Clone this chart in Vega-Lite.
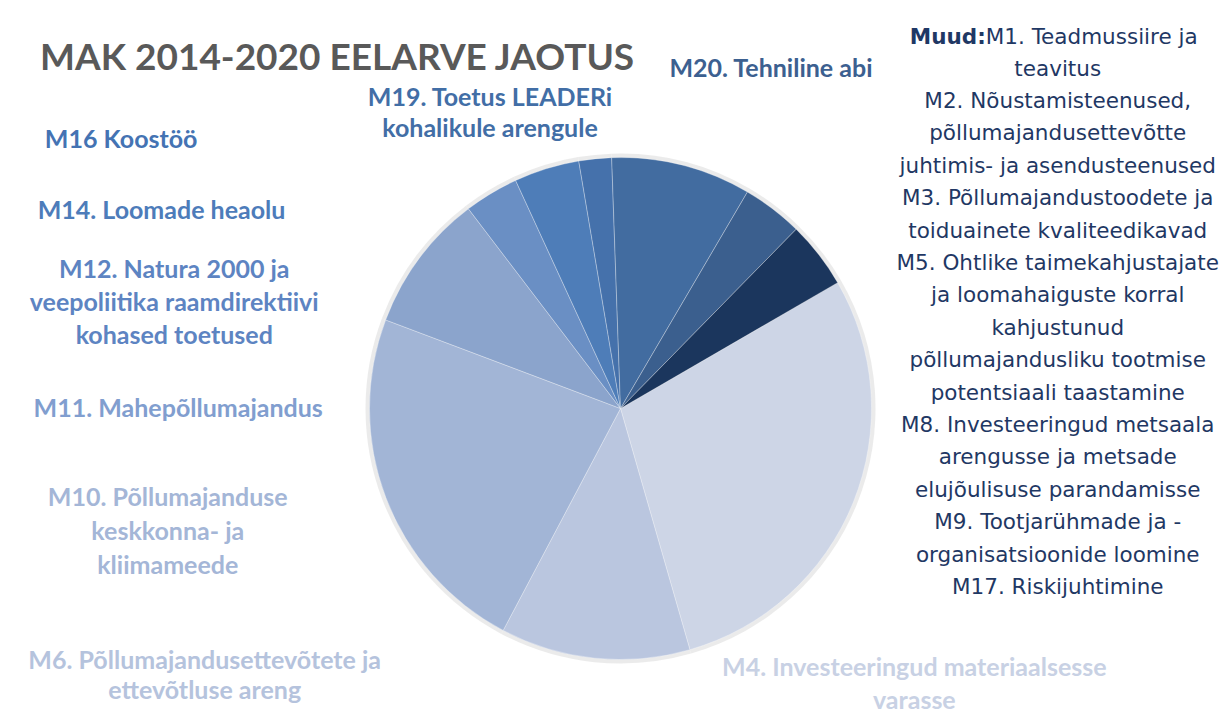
{
  "$schema": "https://vega.github.io/schema/vega-lite/v6.json",
  "autosize": {"type": "none"},
  "width": 1221,
  "height": 627,
  "padding": {"left": 10, "top": 95, "right": 0, "bottom": 0},
  "background": "#ffffff",
  "config": {"view": {"stroke": null}},
  "title": {"text": "MAK 2014-2020 EELARVE JAOTUS", "anchor": "start", "frame": "group", "orient": "top", "offset": -176, "dx": 30, "baseline": "alphabetic", "font": "Lato", "fontSize": 37, "fontWeight": "bold", "color": "#595959"},
  "data": {"values": [
    {"n": 1, "name": "M4", "value": 28.9, "label": "M4. Investeeringud materiaalsesse\nvarasse"},
    {"n": 2, "name": "M6", "value": 12.2, "label": "M6. Põllumajandusettevõtete ja\nettevõtluse areng"},
    {"n": 3, "name": "M10", "value": 23.0, "label": "M10. Põllumajanduse\nkeskkonna- ja\nkliimameede"},
    {"n": 4, "name": "M11", "value": 8.9, "label": "M11. Mahepõllumajandus"},
    {"n": 5, "name": "M12", "value": 3.5, "label": "M12. Natura 2000 ja\nveepoliitika raamdirektiivi\nkohased toetused"},
    {"n": 6, "name": "M14", "value": 4.2, "label": "M14. Loomade heaolu"},
    {"n": 7, "name": "M16", "value": 2.1, "label": "M16 Koostöö"},
    {"n": 8, "name": "M19", "value": 9.0, "label": "M19. Toetus LEADERi\nkohalikule arengule"},
    {"n": 9, "name": "M20", "value": 3.9, "label": "M20. Tehniline abi"},
    {"n": 10, "name": "Muud", "value": 4.3, "label": "M1. Teadmussiire ja"}
  ]},
  "encoding": {
    "theta": {"field": "value", "type": "quantitative", "stack": true, "scale": {"range": [1.0455, 7.3287]}},
    "order": {"field": "n", "type": "quantitative"},
    "detail": {"field": "name", "type": "nominal"}
  },
  "layer": [
    {
      "mark": {"type": "arc", "radius": 255, "color": "#e3e3e3", "opacity": 0.7},
      "encoding": {}
    },
    {
      "mark": {"type": "arc", "radius": 251, "stroke": "#ffffff", "strokeWidth": 0.6, "strokeOpacity": 0.5},
      "encoding": {
        "color": {"field": "name", "type": "nominal", "legend": null,
          "scale": {"domain": ["M4", "M6", "M10", "M11", "M12", "M14", "M16", "M19", "M20", "Muud"],
                    "range": ["#cdd5e6", "#bac6df", "#a2b5d6", "#8ba4cc", "#6a8fc4", "#4e7db8", "#4571ab", "#426ca0", "#3b5f8e", "#1b365d"]}}
      }
    },
    {
      "mark": {"type": "text", "radius": 251, "dx": 61, "dy": 166, "align": "center", "baseline": "middle", "lineBreak": "\n", "lineHeight": 33, "font": "Lato", "fontSize": 25, "fontWeight": "bold", "color": "#c8d1e4"},
      "encoding": {"text": {"condition": {"test": "datum.name === 'M4'", "field": "label"}, "value": ""}}
    },
    {
      "mark": {"type": "text", "radius": 251, "dx": -390, "dy": 3, "align": "center", "baseline": "middle", "lineBreak": "\n", "lineHeight": 30, "font": "Lato", "fontSize": 25, "fontWeight": "bold", "color": "#b5c3dd"},
      "encoding": {"text": {"condition": {"test": "datum.name === 'M6'", "field": "label"}, "value": ""}}
    },
    {
      "mark": {"type": "text", "radius": 251, "dx": -218, "dy": 1, "align": "center", "baseline": "middle", "lineBreak": "\n", "lineHeight": 34, "font": "Lato", "fontSize": 25, "fontWeight": "bold", "color": "#a4b6d7"},
      "encoding": {"text": {"condition": {"test": "datum.name === 'M10'", "field": "label"}, "value": ""}}
    },
    {
      "mark": {"type": "text", "radius": 251, "dx": -241, "dy": 150, "align": "center", "baseline": "middle", "lineBreak": "\n", "lineHeight": 33, "font": "Lato", "fontSize": 25, "fontWeight": "bold", "color": "#819ecf"},
      "encoding": {"text": {"condition": {"test": "datum.name === 'M11'", "field": "label"}, "value": ""}}
    },
    {
      "mark": {"type": "text", "radius": 251, "dx": -317, "dy": 77, "align": "center", "baseline": "middle", "lineBreak": "\n", "lineHeight": 33, "font": "Lato", "fontSize": 25, "fontWeight": "bold", "color": "#5d84c2"},
      "encoding": {"text": {"condition": {"test": "datum.name === 'M12'", "field": "label"}, "value": ""}}
    },
    {
      "mark": {"type": "text", "radius": 251, "dx": -385, "dy": 42, "align": "center", "baseline": "middle", "lineBreak": "\n", "lineHeight": 33, "font": "Lato", "fontSize": 25, "fontWeight": "bold", "color": "#4d7cba"},
      "encoding": {"text": {"condition": {"test": "datum.name === 'M14'", "field": "label"}, "value": ""}}
    },
    {
      "mark": {"type": "text", "radius": 251, "dx": -474, "dy": -19, "align": "center", "baseline": "middle", "lineBreak": "\n", "lineHeight": 33, "font": "Lato", "fontSize": 25, "fontWeight": "bold", "color": "#4473b3"},
      "encoding": {"text": {"condition": {"test": "datum.name === 'M16'", "field": "label"}, "value": ""}}
    },
    {
      "mark": {"type": "text", "radius": 251, "dx": -192, "dy": -67, "align": "center", "baseline": "middle", "lineBreak": "\n", "lineHeight": 31, "font": "Lato", "fontSize": 25, "fontWeight": "bold", "color": "#426ea6"},
      "encoding": {"text": {"condition": {"test": "datum.name === 'M19'", "field": "label"}, "value": ""}}
    },
    {
      "mark": {"type": "text", "radius": 251, "dx": -2, "dy": -140, "align": "center", "baseline": "middle", "lineBreak": "\n", "lineHeight": 33, "font": "Lato", "fontSize": 25, "fontWeight": "bold", "color": "#3c6090"},
      "encoding": {"text": {"condition": {"test": "datum.name === 'M20'", "field": "label"}, "value": ""}}
    },
    {
      "mark": {"type": "text", "radius": 251, "dx": 167, "dy": -217, "align": "right", "baseline": "middle", "font": "DejaVu Sans", "fontSize": 21.5, "fontWeight": "bold", "color": "#1f3864"},
      "encoding": {"text": {"condition": {"test": "datum.name === 'Muud'", "value": "Muud:"}, "value": ""}}
    },
    {
      "mark": {"type": "text", "radius": 251, "dx": 167, "dy": -217, "align": "left", "baseline": "middle", "font": "DejaVu Sans", "fontSize": 21.5, "color": "#1f3864"},
      "encoding": {"text": {"condition": {"test": "datum.name === 'Muud'", "field": "label"}, "value": ""}}
    },
    {
      "mark": {"type": "text", "radius": 251, "dx": 239, "dy": -185, "align": "center", "baseline": "middle", "lineHeight": 32.4, "font": "DejaVu Sans", "fontSize": 21.5, "color": "#1f3864"},
      "encoding": {"text": {"condition": {"test": "datum.name === 'Muud'", "value": ["teavitus", "M2. Nõustamisteenused,", "põllumajandusettevõtte", "juhtimis- ja asendusteenused", "M3. Põllumajandustoodete ja", "toiduainete kvaliteedikavad", "M5. Ohtlike taimekahjustajate", "ja loomahaiguste korral", "kahjustunud", "põllumajandusliku tootmise", "potentsiaali taastamine", "M8. Investeeringud metsaala", "arengusse ja metsade", "elujõulisuse parandamisse", "M9. Tootjarühmade ja -", "organisatsioonide loomine", "M17. Riskijuhtimine"]}, "value": ""}}
    }
  ]
}
